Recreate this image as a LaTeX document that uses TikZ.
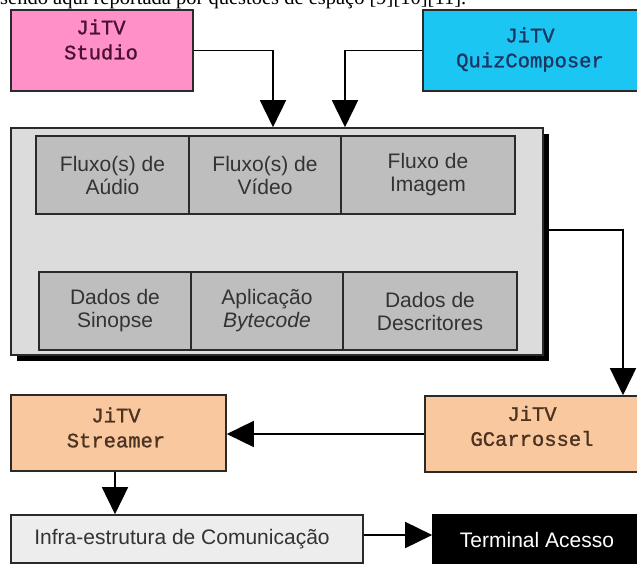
\documentclass[tikz,border=0pt]{standalone}
\usepackage{fontspec}
\setmainfont{Liberation Sans}
\newfontfamily\sansf{Liberation Sans}
\newfontfamily\monof[FakeBold=1.2]{Liberation Mono}
\newfontfamily\seriff{Liberation Serif}
\usetikzlibrary{arrows.meta}
\definecolor{pinkbox}{HTML}{FF90C8}
\definecolor{cyanbox}{HTML}{1CC6F2}
\definecolor{peachbox}{HTML}{FAC89E}
\definecolor{maingray}{HTML}{DCDCDC}
\definecolor{cellgray}{HTML}{BEBEBE}
\definecolor{infragray}{HTML}{EDEDED}
\definecolor{bordc}{HTML}{2A2A2A}
\definecolor{celltxt}{HTML}{333333}
\definecolor{studiotxt}{HTML}{4A1232}
\definecolor{quiztxt}{HTML}{1C3562}
\definecolor{peachtxt}{HTML}{4A3322}
\tikzset{
  box/.style={draw=bordc, line width=1.6pt, inner sep=0pt, rectangle},
  cellbox/.style={box, fill=cellgray, line width=1.5pt},
  celltext/.style={font=\sansf\fontsize{21}{23}\selectfont, text=celltxt, align=center, inner sep=0pt},
  monotext/.style={font=\monof\fontsize{20.5}{25}\selectfont, align=center, inner sep=0pt},
  conn/.style={draw=black, line width=1.6pt, -{Triangle[length=27pt,width=26pt]}},
}
\begin{document}
\begin{tikzpicture}[x=1pt,y=-1pt]
\path[use as bounding box, clip] (0,0) rectangle (637,564);
\fill[white] (0,0) rectangle (637,564);
% caption line clipped at top
\node[anchor=base west, inner sep=0pt, font=\seriff\fontsize{20.5}{24}\selectfont] (cap) at (0,5) {sendo aqui reportada por questões de espaço [9][10][11].};
% top boxes
\node[box, fill=pinkbox, minimum width=182pt, minimum height=81pt] (studio) at (102,50.5) {};
\node[monotext, text=studiotxt] (studiot) at (101,39.5) {JiTV\\Studio};
\node[box, fill=cyanbox, minimum width=218pt, minimum height=81pt] (quiz) at (532,50.5) {};
\node[monotext, text=quiztxt] (quizt) at (530,49.5) {JiTV\\QuizComposer};
% main box with shadow
\fill[black] (17,134) rectangle (549,361);
\node[box, fill=maingray, minimum width=532pt, minimum height=227pt] (main) at (277,241.5) {};
% cells
\node[cellbox, minimum width=153pt, minimum height=78pt] (a1) at (112.5,175) {};
\node[cellbox, minimum width=152pt, minimum height=78pt] (a2) at (265,175) {};
\node[cellbox, minimum width=174pt, minimum height=78pt] (a3) at (428,175) {};
\node[cellbox, minimum width=152pt, minimum height=78pt] (b1) at (115,311) {};
\node[cellbox, minimum width=152pt, minimum height=78pt] (b2) at (267,311) {};
\node[cellbox, minimum width=174pt, minimum height=78pt] (b3) at (430,311) {};
\node[celltext] (a1t) at (a1) {Fluxo(s) de\\Aúdio};
\node[celltext] (a2t) at (a2) {Fluxo(s) de\\Vídeo};
\node[celltext] (a3t) at (a3) {Fluxo de\\Imagem};
\node[celltext] (b1t) at (b1) {Dados de\\Sinopse};
\node[celltext] (b2t) at (b2) {Aplicação\\\textit{Bytecode}};
\node[celltext] (b3t) at (b3) {Dados de\\Descritores};
% lower boxes
\node[box, fill=peachbox, minimum width=216pt, minimum height=76pt] (carr) at (533,434) {};
\node[monotext, text=peachtxt] (carrt) at (532,426) {JiTV\\GCarrossel};
\node[box, fill=peachbox, minimum width=215pt, minimum height=76pt] (streamer) at (118.5,433) {};
\node[monotext, text=peachtxt] (streamert) at (116,427.5) {JiTV\\Streamer};
\node[box, fill=infragray, minimum width=352pt, minimum height=48pt] (infra) at (187,539) {};
\node[celltext] (infrat) at (182,539) {Infra-estrutura de Comunicação};
\node[box, draw=black, fill=black, minimum width=208pt, minimum height=53pt] (term) at (537,541.5) {};
\node[celltext, text=white] (termt) at (537,540) {Terminal Acesso};
% connectors
\coordinate (c1) at (273,50.5);
\coordinate (c2) at (345,50.5);
\coordinate (c3) at (623,230);
\coordinate (c4) at (115,0);
\coordinate (c5) at (0,535);
\draw[conn] (studio.east) -- (c1) -- (c1 |- main.north);
\draw[conn] (quiz.west) -- (c2) -- (c2 |- main.north);
\draw[conn] (c3 -| main.east) -- (c3) -- (c3 |- carr.north);
\draw[conn] (carr.west) -- (carr.west -| streamer.east);
\draw[conn] (c4 |- streamer.south) -- (c4 |- infra.north);
\draw[conn] (c5 -| infra.east) -- (c5 -| term.west);
\end{tikzpicture}
\end{document}
